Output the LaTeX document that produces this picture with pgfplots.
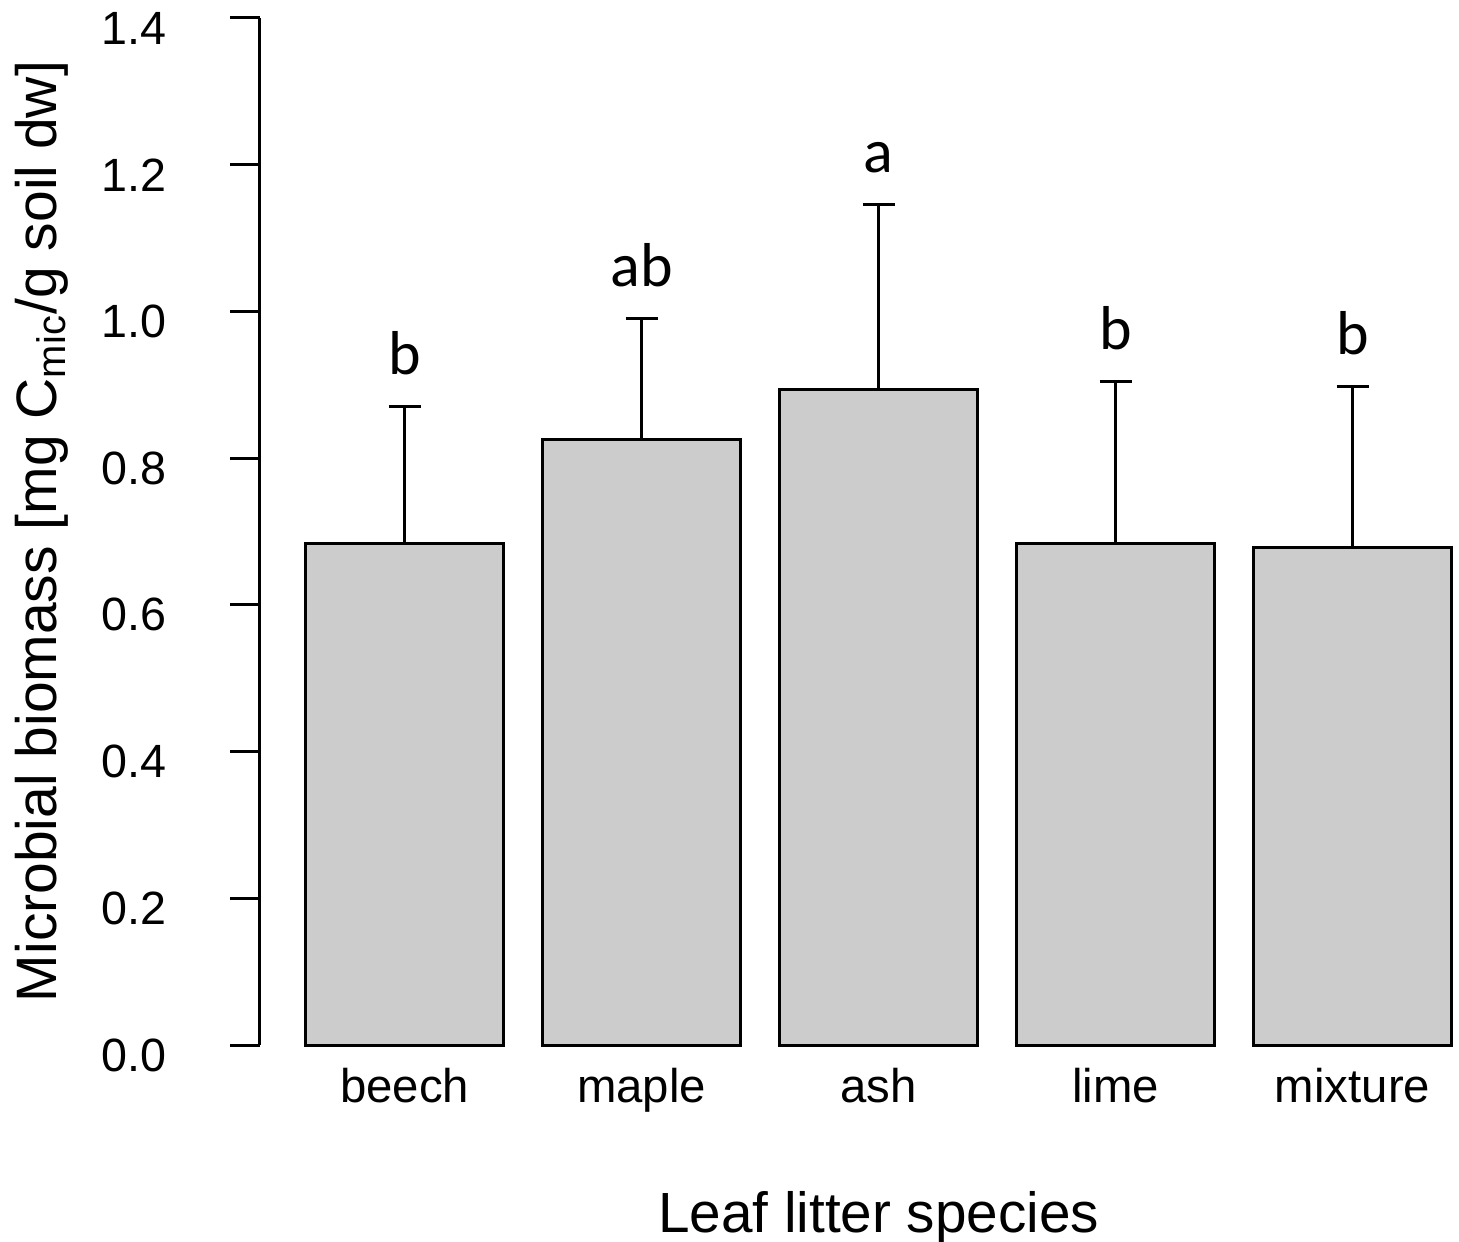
\documentclass[border=0pt]{standalone}
\usepackage{pgfplots}
\pgfplotsset{compat=1.18}
\usepackage{fontspec}
\setmainfont{Liberation Sans}
\newfontfamily\letterfont{Carlito}
\definecolor{barfill}{HTML}{CCCCCC}
\begin{document}
\begin{tikzpicture}
\begin{axis}[
  name=ax,
  scale only axis,
  width=359.7pt, height=308.1pt,
  xmin=-0.032, xmax=6.039,
  ymin=0, ymax=1.4,
  axis y line*=left,
  axis x line*=bottom,
  x axis line style={draw=none},
  xtick={0.7,1.9,3.1,4.3,5.5},
  xticklabels={beech,maple,ash,lime,mixture},
  xtick style={draw=none},
  ytick={0,0.2,...,1.4},
  ytick align=outside,
  major tick length=9pt,
  y axis line style={line width=0.9pt},
  ytick style={line width=0.9pt, black},
  /pgf/number format/assume math mode=true,
  yticklabel style={/pgf/number format/.cd, fixed, fixed zerofill, precision=1, /tikz/.cd,
    font=\fontsize{14}{16}\selectfont, anchor=east, inner sep=0pt, xshift=-19pt, yshift=-3pt},
  xticklabel style={font=\fontsize{14.2}{16}\selectfont, anchor=base, inner sep=0pt, yshift=-17.1pt},
  xlabel={Leaf litter species},
  ylabel={Microbial biomass [mg C\textsubscript{mic}/g soil dw]},
  xlabel style={font=\fontsize{17}{19}\selectfont, at={(axis description cs:0.516,-0.1821)}, anchor=base, inner sep=0pt},
  ylabel style={font=\fontsize{17.1}{19}\selectfont, at={(axis description cs:-0.170,0.5)}, anchor=base, rotate=0, inner sep=0pt},
  clip=false,
]
\addplot[ybar, bar width=1, fill=barfill, draw=black, line width=0.9pt,
  error bars/.cd, y dir=plus, y explicit,
  error bar style={line width=0.9pt, black},
  error mark options={line width=0.9pt, black, mark size=4.8pt, rotate=90}]
  table[x=x, y=y, y error=se] {
  x    y     se
  0.7  0.683 0.188
  1.9  0.825 0.166
  3.1  0.893 0.253
  4.3  0.683 0.222
  5.5  0.678 0.219
};
\addplot[draw=none, mark=none, nodes near coords, point meta=explicit symbolic,
  nodes near coords style={font=\letterfont\fontsize{18.6}{20}\selectfont, anchor=base, inner sep=0pt, yshift=9.6pt}]
  table[x=x, y=y, meta=lab] {
  x    y     lab
  0.7  0.871 b
  1.9  0.991 ab
  3.1  1.146 a
  4.3  0.905 b
  5.5  0.897 b
};
\end{axis}
\pgfresetboundingbox
\path (ax.south west) ++(-78pt,-58.8pt) rectangle ++(437.7pt,372.3pt);
\end{tikzpicture}
\end{document}
